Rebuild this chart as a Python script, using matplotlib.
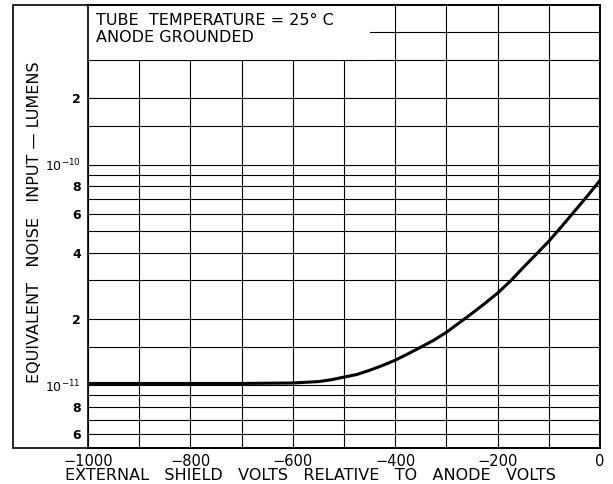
# Equivalent noise input vs external shield voltage
import matplotlib.pyplot as plt
from matplotlib.patches import Rectangle

# curve
shield_volts = [-1000, -900, -800, -700, -600, -550, -525, -500, -475, -450, -425,
                -400, -375, -350, -325, -300, -275, -250, -225, -200, -175, -150,
                -125, -100, -75, -50, -25, 0]
noise_lumens = [1.02e-11, 1.02e-11, 1.02e-11, 1.02e-11, 1.025e-11, 1.04e-11, 1.06e-11,
                1.09e-11, 1.12e-11, 1.17e-11, 1.23e-11, 1.30e-11, 1.39e-11, 1.49e-11,
                1.60e-11, 1.74e-11, 1.92e-11, 2.12e-11, 2.35e-11, 2.62e-11, 2.97e-11,
                3.42e-11, 3.92e-11, 4.5e-11, 5.25e-11, 6.15e-11, 7.2e-11, 8.5e-11]

x_ticks = [-1000, -800, -600, -400, -200, 0]
x_grid = list(range(-1000, 1, 100))
y_labeled = [6e-12, 8e-12, 1e-11, 2e-11, 4e-11, 6e-11, 8e-11, 1e-10, 2e-10]
y_labels = ['6', '8', r'$10^{-11}$', '2', '4', '6', '8', r'$10^{-10}$', '2']
y_extra = [7e-12, 9e-12, 1.5e-11, 3e-11, 5e-11, 7e-11, 9e-11, 1.5e-10, 3e-10, 4e-10]

fig = plt.figure(figsize=(6.13, 4.84), dpi=100)
ax = fig.add_axes([88/613, 36/484, 512/613, 443/484])

ax.set_yscale('log')
ax.set_xlim(-1000, 0)
ax.set_ylim(5.2e-12, 5.3e-10)

# grid lines
for v in x_grid:
    ax.axvline(v, color='black', lw=0.8, zorder=1)
for v in y_labeled + y_extra:
    ax.axhline(v, color='black', lw=0.8, zorder=1)

# white box with the notes, covers the grid
ax.add_patch(Rectangle((-1000, 3e-10), 550, 1e-9, facecolor='white',
                       edgecolor='none', zorder=2))
ax.text(0.015, 0.966, 'TUBE  TEMPERATURE = 25° C', fontsize=11.5, zorder=3,
        va='center', transform=ax.transAxes)
ax.text(0.015, 0.926, 'ANODE GROUNDED', fontsize=11.5, zorder=3,
        va='center', transform=ax.transAxes)

ax.plot(shield_volts, noise_lumens, color='black', lw=2.2, zorder=4)

ax.set_xticks(x_ticks)
ax.set_xticklabels(['−1000', '−800', '−600', '−400', '−200', '0'], fontsize=10.5)
ax.set_yticks(y_labeled)
ax.set_yticklabels(y_labels, fontsize=9, fontweight='bold')
ax.minorticks_off()
ax.tick_params(axis='both', length=0)
ax.tick_params(axis='x', pad=4)
ax.tick_params(axis='y', pad=5)

ax.set_xlabel('EXTERNAL   SHIELD   VOLTS   RELATIVE   TO   ANODE   VOLTS', fontsize=11.5)
ax.xaxis.set_label_coords((310 - 88) / 512, -(476 - 448) / 443)
ax.xaxis.label.set_va('center')
ax.set_ylabel('EQUIVALENT   NOISE   INPUT — LUMENS', fontsize=11.5)
ax.yaxis.set_label_coords(-(88 - 42) / 512, 0.51)

for s in ax.spines.values():
    s.set_linewidth(1.2)

# outer frame around the label area
fig.add_artist(Rectangle((13/613, 36/484), 587/613, 443/484, transform=fig.transFigure,
                         fill=False, edgecolor='black', lw=1.2))

plt.savefig('out.png', dpi=100)
